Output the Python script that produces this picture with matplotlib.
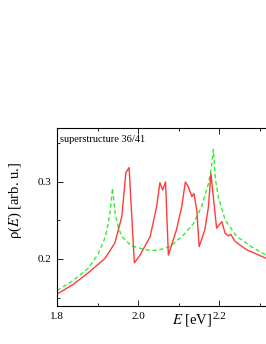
import numpy as np
import matplotlib.pyplot as plt
from matplotlib.ticker import MultipleLocator

plt.rcParams['font.family'] = ['Liberation Serif', 'DejaVu Serif']
plt.rcParams['mathtext.fontset'] = 'stix'

# green dashed curve (reference)
E_green = [1.800, 1.840, 1.877, 1.901, 1.919, 1.926, 1.932, 1.937, 1.944,
           1.951, 1.960, 1.984, 2.005, 2.017, 2.046, 2.079, 2.112, 2.137,
           2.157, 2.174, 2.181, 2.186, 2.191, 2.198, 2.215, 2.244, 2.280,
           2.316]
rho_green = [0.159, 0.172, 0.188, 0.206, 0.228, 0.245, 0.265, 0.292, 0.258,
             0.242, 0.229, 0.217, 0.214, 0.212, 0.211, 0.216, 0.231, 0.246,
             0.268, 0.298, 0.318, 0.342, 0.305, 0.281, 0.251, 0.229, 0.216,
             0.205]

# red solid curve (superstructure)
E_red = [1.800, 1.840, 1.877, 1.919, 1.943, 1.960, 1.970, 1.978, 1.991,
         2.005, 2.030, 2.046, 2.054, 2.061, 2.068, 2.075, 2.095, 2.108,
         2.117, 2.124, 2.133, 2.138, 2.145, 2.151, 2.165, 2.174, 2.180,
         2.194, 2.207, 2.215, 2.223, 2.229, 2.240, 2.268, 2.316]
rho_red = [0.1545, 0.167, 0.182, 0.201, 0.221, 0.255, 0.312, 0.3186, 0.195,
           0.205, 0.229, 0.268, 0.299, 0.2896, 0.300, 0.205, 0.238, 0.268,
           0.300, 0.294, 0.281, 0.285, 0.264, 0.216, 0.238, 0.268, 0.311,
           0.240, 0.2485, 0.2334, 0.230, 0.232, 0.2225, 0.212, 0.201]

fig = plt.figure(figsize=(2.66, 3.44), dpi=100)
ax = fig.add_axes([0.2143, 0.1105, 0.8374, 0.5174])

ax.plot(E_green, rho_green, color='#33ee33', ls=(0, (3, 2)), lw=1.0)
ax.plot(E_red, rho_red, color='#ff3b3b', lw=1.0)

ax.set_xlim(1.8, 2.35)
ax.set_ylim(0.139, 0.370)
ax.xaxis.set_major_locator(MultipleLocator(0.2))
ax.xaxis.set_minor_locator(MultipleLocator(0.1))
ax.yaxis.set_major_locator(MultipleLocator(0.1))
ax.yaxis.set_minor_locator(MultipleLocator(0.05))
ax.xaxis.set_major_formatter(plt.FormatStrFormatter('%.1f'))
ax.yaxis.set_major_formatter(plt.FormatStrFormatter('%.1f'))
ax.tick_params(which='both', direction='in', top=True, right=True,
               labelsize=8, width=0.6, pad=4)
ax.tick_params(which='major', length=4)
ax.tick_params(which='minor', length=2)
for s in ax.spines.values():
    s.set_linewidth(0.8)

ax.set_xlabel('$E$ [eV]', fontsize=10.5)
ax.xaxis.set_label_coords(0.606, -0.034)
ax.set_ylabel('ρ($E$) [arb. u.]', fontsize=10.5)
ax.yaxis.set_label_coords(-0.15, 0.596)
ax.text(0.012, 0.935, 'superstructure 36/41', transform=ax.transAxes,
        fontsize=7.5, va='center', ha='left')

fig.savefig('out.png', dpi=100)
